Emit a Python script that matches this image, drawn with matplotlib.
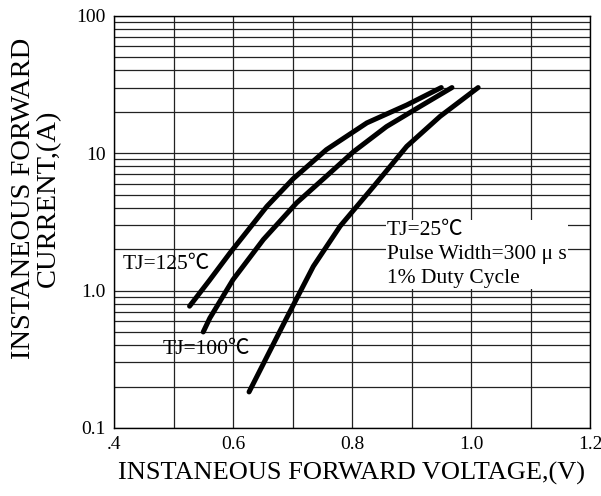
import numpy as np
import matplotlib.pyplot as plt
from matplotlib.ticker import FixedLocator, LogLocator, NullFormatter

# forward voltage (V) / current (A)
v_125 = [0.527, 0.56, 0.595, 0.657, 0.701, 0.757, 0.825, 0.892, 0.950]
i_125 = [0.77, 1.18, 1.88, 4.1, 6.5, 10.6, 16.6, 22.4, 30.0]
v_100 = [0.550, 0.561, 0.600, 0.651, 0.707, 0.757, 0.802, 0.858, 0.914, 0.968]
i_100 = [0.50, 0.63, 1.2, 2.35, 4.35, 6.8, 10.2, 15.6, 21.8, 30.0]
v_25 = [0.627, 0.660, 0.690, 0.735, 0.780, 0.836, 0.892, 0.948, 1.012]
i_25 = [0.183, 0.35, 0.63, 1.50, 2.94, 5.7, 11.2, 18.5, 30.0]

x_ticks = [0.4, 0.6, 0.8, 1.0, 1.2]
x_ticklabels = ['.4', '0.6', '0.8', '1.0', '1.2']
y_ticks = [0.1, 1.0, 10, 100]
y_ticklabels = ['0.1', '1.0', '10', '100']

plt.rcParams['font.family'] = ['Liberation Serif', 'Noto Sans CJK SC', 'DejaVu Sans']

fig = plt.figure(figsize=(6.01, 4.96), dpi=100)
ax = fig.add_axes([114/601, 1-428/496, 476/601, (428-15.7)/496])

for v, i in [(v_125, i_125), (v_100, i_100), (v_25, i_25)]:
    ax.plot(v, i, color='black', lw=3.6, solid_capstyle='round', solid_joinstyle='round', zorder=3)

ax.set_yscale('log')
ax.set_xlim(0.4, 1.2)
ax.set_ylim(0.1, 100)

ax.xaxis.set_major_locator(FixedLocator(x_ticks))
ax.set_xticklabels(x_ticklabels)
ax.xaxis.set_minor_locator(FixedLocator([0.5, 0.7, 0.9, 1.1]))
ax.yaxis.set_major_locator(FixedLocator(y_ticks))
ax.set_yticklabels(y_ticklabels)
ax.yaxis.set_minor_locator(LogLocator(base=10, subs=np.arange(2, 10)))
ax.yaxis.set_minor_formatter(NullFormatter())

ax.grid(True, which='both', color='#222222', lw=0.9)
ax.tick_params(which='both', length=0, labelsize=14, pad=6)
for s in ax.spines.values():
    s.set_linewidth(1.0)

ax.set_xlabel('INSTANEOUS FORWARD VOLTAGE,(V)', fontsize=19, labelpad=6)
fig.text(36/601, 1-198/496, 'INSTANEOUS FORWARD\nCURRENT,(A)', rotation=90,
         ha='center', va='center', fontsize=20.5, multialignment='center', linespacing=1.0)

ax.text(0.415, 1.55, 'TJ=125℃', fontsize=15.5, va='center', ha='left', zorder=4)
ax.text(0.481, 0.373, 'TJ=100℃', fontsize=15.5, va='center', ha='left', zorder=4)
# white block behind the test-condition note hides the grid there
ax.text(0.859, 1.83, 'TJ=25℃\nPulse Width=300 μ s\n1% Duty Cycle', fontsize=15.5,
        va='center', ha='left', linespacing=1.36, zorder=4,
        bbox=dict(facecolor='white', edgecolor='none', pad=1))

fig.savefig('out.png', dpi=100)
